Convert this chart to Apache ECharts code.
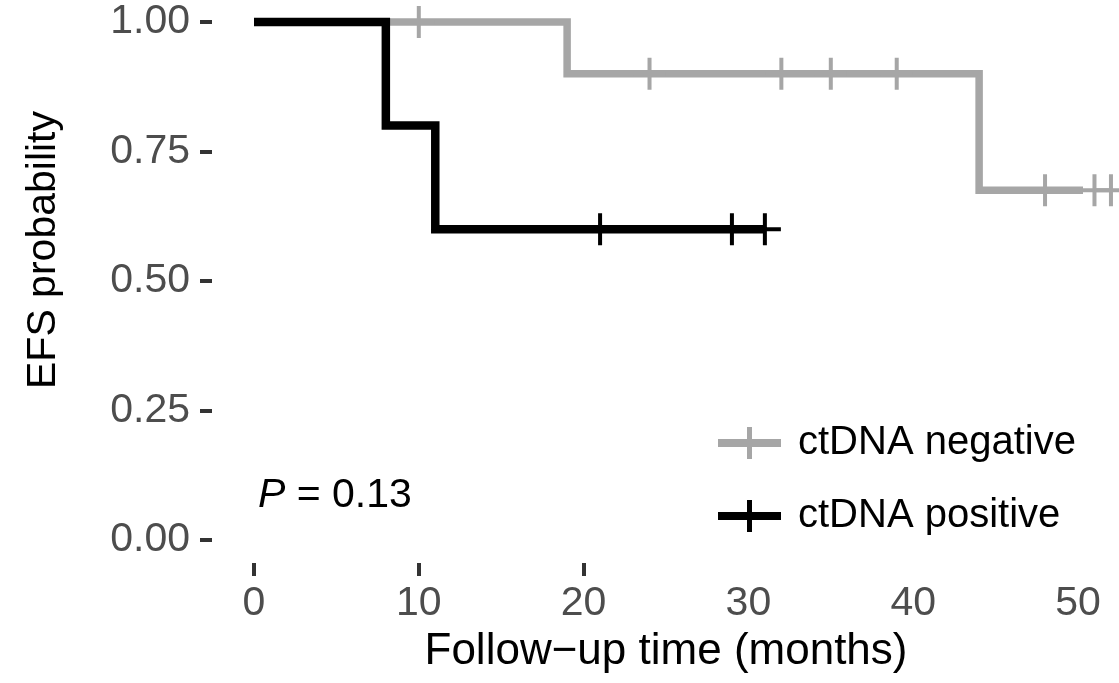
<!DOCTYPE html>
<html>
<head>
<meta charset="utf-8">
<script src="https://cdn.jsdelivr.net/npm/echarts@6/dist/echarts.min.js"></script>
<style>
    html, body { margin: 0; padding: 0; background: #fff; }
    #chart { width: 1119px; height: 683px; }
</style>
</head>
<body>
<div id="chart"></div>
<script>
    // ctDNA negative: step points and censored times
    const negTime = [0, 19, 44, 52]
    const negSurv = [1, 0.9, 0.675, 0.675]
    const negCensorTime = [10, 24, 32, 35, 39, 48, 51, 52]
    const negCensorSurv = [1, 0.9, 0.9, 0.9, 0.9, 0.675, 0.675, 0.675]

    // ctDNA positive
    const posTime = [0, 8, 11, 31]
    const posSurv = [1, 0.8, 0.6, 0.6]
    const posCensorTime = [21, 29, 31]
    const posCensorSurv = [0.6, 0.6, 0.6]

    const groups = ['ctDNA negative', 'ctDNA positive']
    const xTicks = [0, 10, 20, 30, 40, 50]
    const xTickMarks = [0, 10, 20]   // only these show a tick mark in the figure
    const yTicks = [0, 0.25, 0.5, 0.75, 1]
    const pValue = '0.13'

    const font = 'Liberation Sans, Arial, Helvetica, sans-serif'
    const grey = '#a6a6a6'
    const plus = 'path://M0,14h32v4H0z M14,0h4v32h-4z'
    const legendIcon = 'path://M0,12h63v8H0z M29,0h5v32h-5z'

    let zip = (xs, ys) => xs.map((x, i) => [x, ys[i]])

    let chart = echarts.init(document.getElementById('chart'))
    let option = {
        animation: false,
        grid: {
            left: 254,
            right: 41,
            top: 22,
            bottom: 143,
            containLabel: false,
            outerBoundsMode: 'none'
        },
        legend: {
            orient: 'vertical',
            left: 713,
            top: 418,
            itemWidth: 63,
            itemHeight: 32,
            itemGap: 33,
            textStyle: {
                fontFamily: font,
                fontSize: 40,
                color: '#000',
                padding: [0, 0, 0, 12]
            },
            data: [
                { name: groups[0], icon: legendIcon },
                { name: groups[1], icon: legendIcon }
            ]
        },
        xAxis: {
            type: 'value',
            min: xTicks[0],
            max: xTicks[xTicks.length - 1],
            interval: 10,
            offset: 23,
            name: 'Follow\u2212up time (months)',
            nameLocation: 'middle',
            nameGap: 67,
            nameTextStyle: { fontFamily: font, fontSize: 44, color: '#000' },
            axisLine: { show: false, onZero: false },
            axisTick: { show: true, length: 13, customValues: xTickMarks, lineStyle: { color: '#333', width: 4 } },
            axisLabel: { margin: 20, fontFamily: font, fontSize: 41, color: '#4d4d4d' },
            splitLine: { show: false }
        },
        yAxis: {
            type: 'value',
            min: yTicks[0],
            max: yTicks[yTicks.length - 1],
            interval: 0.25,
            offset: 42,
            name: 'EFS probability',
            nameLocation: 'middle',
            nameRotate: 90,
            nameGap: 148,
            nameTextStyle: { fontFamily: font, fontSize: 41, color: '#000', padding: [0, 0, 0, 62] },
            axisLine: { show: false, onZero: false },
            axisTick: { show: true, length: 12, lineStyle: { color: '#333', width: 4 } },
            axisLabel: {
                margin: 22,
                fontFamily: font,
                fontSize: 41,
                color: '#4d4d4d',
                formatter: v => v.toFixed(2)
            },
            splitLine: { show: false }
        },
        series: [
            {
                name: groups[0],
                type: 'line',
                step: 'end',
                clip: false,
                showSymbol: false,
                color: grey,
                lineStyle: { color: grey, width: 7.5, join: 'miter' },
                data: zip(negTime, negSurv),
                z: 2
            },
            {
                name: groups[0],
                type: 'scatter',
                clip: false,
                symbol: plus,
                symbolSize: [32, 32],
                itemStyle: { color: grey, opacity: 1 },
                data: zip(negCensorTime, negCensorSurv),
                z: 3
            },
            {
                name: groups[1],
                type: 'line',
                step: 'end',
                clip: false,
                showSymbol: false,
                color: '#000',
                lineStyle: { color: '#000', width: 8.5, join: 'miter' },
                data: zip(posTime, posSurv),
                z: 4
            },
            {
                name: groups[1],
                type: 'scatter',
                clip: false,
                symbol: plus,
                symbolSize: [32, 32],
                itemStyle: { color: '#000', opacity: 1 },
                data: zip(posCensorTime, posCensorSurv),
                z: 5
            }
        ],
        graphic: [
            {
                type: 'text',
                left: 258,
                top: 475,
                style: {
                    text: '{it|P} = ' + pValue,
                    fontFamily: font,
                    fontSize: 41,
                    fill: '#000',
                    rich: {
                        it: { fontFamily: font, fontSize: 41, fontStyle: 'italic', color: '#000' }
                    }
                }
            }
        ]
    }
    chart.setOption(option)
</script>
</body>
</html>
